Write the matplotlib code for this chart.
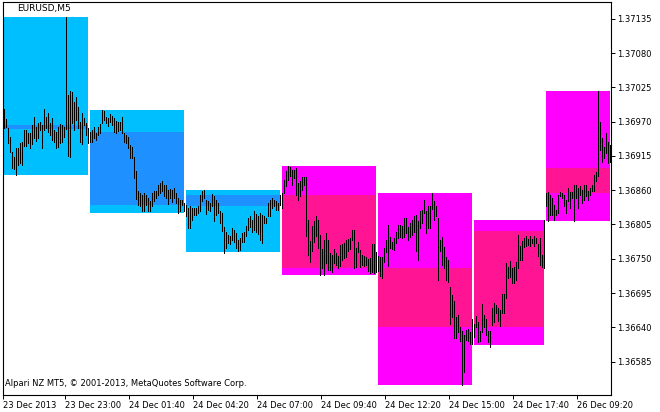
import numpy as np
import matplotlib
matplotlib.use("Agg")
import matplotlib.pyplot as plt
from matplotlib.patches import Rectangle

# EURUSD M5 bars, high / low in points (1e-5)
highs = [
    136990, 136974, 136959, 136946, 136922, 136914, 136927, 136927, 136935, 136938,
    136957, 136956, 136951, 136951, 136965, 136977, 136961, 136968, 136970, 136965,
    136990, 136977, 136983, 136967, 136976, 136957, 136953, 136962, 136966, 136965,
    136962, 137137, 137013, 137019, 137018, 137002, 137009, 136994, 136970, 136983,
    136975, 136967, 136959, 136954, 136957, 136962, 136951, 136962, 136966, 136989,
    136987, 136978, 136975, 136982, 136979, 136975, 136971, 136970, 136969, 136978,
    136951, 136948, 136946, 136933, 136930, 136914, 136890, 136859, 136855, 136852,
    136855, 136852, 136848, 136843, 136855, 136858, 136859, 136868, 136871, 136874,
    136868, 136869, 136860, 136862, 136860, 136863, 136855, 136847, 136844, 136845,
    136839, 136836, 136831, 136835, 136831, 136832, 136831, 136834, 136853, 136859,
    136860, 136845, 136842, 136839, 136854, 136850, 136845, 136839, 136827, 136823,
    136801, 136793, 136788, 136787, 136799, 136796, 136791, 136780, 136784, 136792,
    136793, 136803, 136815, 136819, 136812, 136826, 136822, 136819, 136824, 136820,
    136819, 136816, 136839, 136844, 136847, 136845, 136842, 136839, 136853, 136855,
    136876, 136890, 136899, 136897, 136892, 136892, 136895, 136871, 136874, 136881,
    136881, 136881, 136812, 136779, 136803, 136810, 136819, 136812, 136788, 136765,
    136780, 136792, 136780, 136760, 136756, 136765, 136759, 136754, 136772, 136774,
    136775, 136780, 136781, 136783, 136796, 136796, 136767, 136777, 136764, 136756,
    136754, 136753, 136749, 136751, 136774, 136774, 136761, 136754, 136753, 136753,
    136768, 136780, 136804, 136785, 136777, 136784, 136793, 136804, 136804, 136803,
    136815, 136816, 136801, 136808, 136812, 136819, 136821, 136811, 136826, 136828,
    136844, 136827, 136835, 136834, 136855, 136842, 136834, 136815, 136780, 136785,
    136769, 136753, 136748, 136705, 136692, 136682, 136657, 136660, 136641, 136634,
    136628, 136636, 136637, 136633, 136654, 136646, 136658, 136648, 136634, 136677,
    136660, 136654, 136634, 136635, 136671, 136679, 136676, 136671, 136668, 136693,
    136693, 136743, 136737, 136746, 136736, 136737, 136745, 136788, 136770, 136779,
    136784, 136786, 136782, 136786, 136782, 136787, 136783, 136773, 136783, 136756,
    136812, 136855, 136857, 136852, 136847, 136836, 136828, 136852, 136857, 136855,
    136853, 136844, 136863, 136857, 136857, 136868, 136869, 136864, 136867, 136860,
    136868, 136868, 136859, 136864, 136869, 136884, 136889, 137019, 136970, 136943,
    136930, 136951, 136937, 136932,
]
lows = [
    136959, 136961, 136935, 136922, 136895, 136894, 136884, 136900, 136903, 136900,
    136931, 136931, 136935, 136927, 136934, 136944, 136939, 136944, 136957, 136927,
    136957, 136959, 136954, 136948, 136941, 136938, 136927, 136930, 136935, 136938,
    136946, 136958, 136915, 136913, 136967, 136956, 136973, 136959, 136938, 136934,
    136965, 136949, 136935, 136938, 136938, 136943, 136941, 136949, 136951, 136967,
    136973, 136967, 136963, 136970, 136965, 136954, 136951, 136955, 136957, 136951,
    136938, 136935, 136927, 136911, 136911, 136879, 136846, 136837, 136834, 136826,
    136827, 136836, 136826, 136827, 136834, 136842, 136847, 136852, 136855, 136859,
    136850, 136847, 136838, 136847, 136841, 136847, 136839, 136824, 136827, 136837,
    136827, 136818, 136800, 136800, 136812, 136820, 136820, 136823, 136827, 136842,
    136847, 136822, 136828, 136827, 136834, 136811, 136820, 136823, 136807, 136795,
    136760, 136767, 136775, 136774, 136780, 136777, 136768, 136762, 136764, 136777,
    136777, 136787, 136796, 136801, 136793, 136796, 136793, 136790, 136780, 136776,
    136807, 136807, 136819, 136818, 136831, 136834, 136829, 136828, 136836, 136831,
    136855, 136866, 136876, 136882, 136868, 136879, 136852, 136844, 136850, 136861,
    136868, 136787, 136756, 136745, 136763, 136777, 136787, 136767, 136724, 136736,
    136724, 136743, 136732, 136732, 136729, 136744, 136740, 136735, 136738, 136748,
    136751, 136753, 136763, 136765, 136780, 136735, 136737, 136761, 136737, 136740,
    136738, 136740, 136731, 136728, 136729, 136727, 136729, 136731, 136722, 136719,
    136745, 136761, 136738, 136768, 136765, 136764, 136775, 136783, 136785, 136783,
    136785, 136791, 136780, 136785, 136788, 136793, 136762, 136748, 136799, 136807,
    136823, 136791, 136799, 136799, 136830, 136812, 136818, 136716, 136762, 136740,
    136735, 136716, 136713, 136646, 136657, 136623, 136623, 136633, 136618, 136548,
    136569, 136620, 136618, 136613, 136613, 136625, 136640, 136617, 136618, 136633,
    136640, 136628, 136617, 136609, 136644, 136649, 136663, 136650, 136643, 136663,
    136663, 136687, 136720, 136721, 136711, 136711, 136716, 136736, 136748, 136748,
    136769, 136771, 136772, 136771, 136775, 136771, 136775, 136755, 136740, 136737,
    136736, 136835, 136811, 136820, 136821, 136812, 136821, 136823, 136850, 136847,
    136834, 136823, 136842, 136832, 136847, 136810, 136847, 136832, 136852, 136839,
    136844, 136851, 136844, 136852, 136859, 136859, 136874, 136882, 136924, 136906,
    136911, 136919, 136903, 136906,
]

# 4-hour range boxes (bar index from/to, range, body)
box_start = [-5, 43, 91, 139, 187, 235, 271]
box_end = [42, 90, 138, 186, 234, 270, 303]
box_high = [137138, 136989, 136860, 136899, 136855, 136812, 137019]
box_low = [136884, 136824, 136761, 136724, 136548, 136611, 136811]
body_top = [136965, 136954, 136852, 136852, 136736, 136795, 136895]
body_bottom = [136958, 136836, 136835, 136736, 136641, 136640, 136856]
box_kind = ["blue", "blue", "blue", "pink", "pink", "pink", "pink"]

tick_bars = [0, 32, 64, 96, 128, 160, 192, 224, 256, 288]
tick_labels = ["23 Dec 2013", "23 Dec 23:00", "24 Dec 01:40", "24 Dec 04:20",
               "24 Dec 07:00", "24 Dec 09:40", "24 Dec 12:20", "24 Dec 15:00",
               "24 Dec 17:40", "26 Dec 09:20"]
price_ticks = [1.36585, 1.36640, 1.36695, 1.36750, 1.36805, 1.36860,
               1.36915, 1.36970, 1.37025, 1.37080, 1.37135]

outer_col = {"blue": "#00BFFF", "pink": "#FF00FF"}
inner_col = {"blue": "#1E90FF", "pink": "#FF1493"}

hi = np.array(highs) / 1e5
lo = np.array(lows) / 1e5
x = np.arange(len(hi))

plt.rcParams["font.family"] = "DejaVu Sans"
fig = plt.figure(figsize=(6.6, 4.12), dpi=100)
W, H = 660.0, 412.0
ax = fig.add_axes([2.5 / W, 17 / H, 608.2 / W, 392.7 / H])

for i in range(len(box_start)):
    k = box_kind[i]
    ax.add_patch(Rectangle((box_start[i], box_low[i] / 1e5), box_end[i] - box_start[i],
                           (box_high[i] - box_low[i]) / 1e5, facecolor=outer_col[k],
                           edgecolor="none", antialiased=False, zorder=1))
    ax.add_patch(Rectangle((box_start[i], body_bottom[i] / 1e5), box_end[i] - box_start[i],
                           (body_top[i] - body_bottom[i]) / 1e5, facecolor=inner_col[k],
                           edgecolor="none", antialiased=False, zorder=2))

ax.vlines(x, lo, hi, color="black", linewidth=0.5, antialiased=False, snap=True, zorder=3)

ax.set_xlim(-0.75, 303.35)
ax.set_ylim(1.365316, 1.371613)

ax.yaxis.tick_right()
ax.set_yticks(price_ticks)
ax.set_yticklabels([f"{p:.5f}" for p in price_ticks])
# ticks sit a little left of the bar they label
ax.set_xticks(np.maximum(np.array(tick_bars) - 1.6, -0.7))
ax.set_xticklabels(tick_labels)
ax.tick_params(axis="both", direction="out", length=3, width=0.7, color="black",
               labelsize=6, pad=1.5)
plt.setp(ax.get_xticklabels(), ha="left")
for s in ax.spines.values():
    s.set_linewidth(0.8)
    s.set_color("black")

fig.text(17 / W, 1 - 9 / H, "EURUSD,M5", fontsize=6.5, va="center", ha="left")
fig.text(5 / W, 1 - 384 / H, "Alpari NZ MT5, \u00a9 2001-2013, MetaQuotes Software Corp.",
         fontsize=6, va="center", ha="left")

fig.savefig("out.png", dpi=100)
